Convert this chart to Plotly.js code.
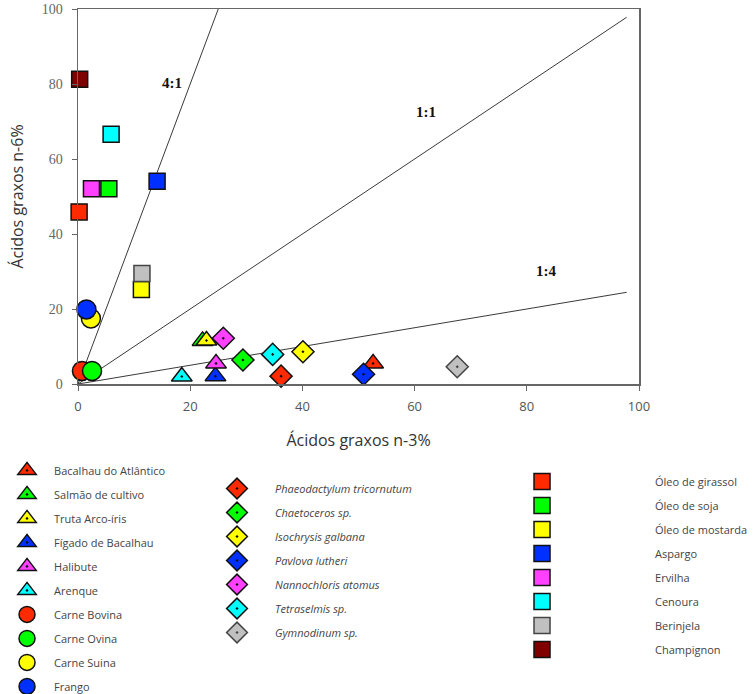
<!DOCTYPE html>
<html>
<head>
<meta charset="utf-8">
<script src="https://cdn.plot.ly/plotly-3.0.1.min.js"></script>
<style>html,body{margin:0;padding:0;background:#fff;}#chart{width:756px;height:694px;}</style>
</head>
<body>
<div id="chart"></div>
<script>
// ---- data (n-3 %, n-6 %) ----
const triNames = ['Bacalhau do Atlântico','Salmão de cultivo','Truta Arco-íris','Fígado de Bacalhau','Halibute','Arenque'];
const triN3 = [52.6, 22.2, 22.9, 24.5, 24.6, 18.5];
const triN6 = [5.5, 11.5, 11.6, 2.1, 5.5, 2.0];

const circNames = ['Carne Bovina','Carne Ovina','Carne Suina','Frango'];
const circN3 = [0.7, 2.5, 2.3, 1.5];
const circN6 = [3.5, 3.5, 17.5, 19.9];

const diaNames = ['Phaeodactylum tricornutum','Chaetoceros sp.','Isochrysis galbana','Pavlova lutheri','Nannochloris atomus','Tetraselmis sp.','Gymnodinum sp.'];
const diaN3 = [36.2, 29.4, 40.1, 50.9, 25.9, 34.7, 67.6];
const diaN6 = [2.1, 6.4, 8.6, 2.6, 12.2, 7.9, 4.6];

const sqNames = ['Óleo de girassol','Óleo de soja','Óleo de mostarda','Aspargo','Ervilha','Cenoura','Berinjela','Champignon'];
const sqN3 = [0.2, 5.5, 11.3, 14.1, 2.4, 5.9, 11.4, 0.3];
const sqN6 = [45.9, 52.1, 25.2, 54.1, 52.1, 66.6, 29.5, 81.3];

const ratioLabels = ['4:1','1:1','1:4'];
const ratioValues = [4, 1, 0.25];
const ratioLabelX = [16.8, 62.1, 83.5];
const ratioLabelY = [80.3, 72.5, 30.1];

const tickVals = [0, 20, 40, 60, 80, 100];

// ---- styles ----
const palette = ['#ff2a00','#00ff00','#ffff00','#0030ff','#ff40ff','#00ffff','#c0c0c0','#800000'];
const traces = [];

// ratio lines
ratioValues.forEach(function(r){
  const xEnd = Math.min(100 / r, 97.8);
  traces.push({x:[0, xEnd], y:[0, xEnd * r], mode:'lines', type:'scatter',
    line:{color:'#3a3a3a', width:1}, showlegend:false, hoverinfo:'skip'});
});

function addGroup(prefix, names, xs, ys, symbol, size, legendId, italic){
  names.forEach(function(n, i){
    traces.push({
      x:[xs[i]], y:[ys[i]], type:'scatter', mode:'markers', cliponaxis:false,
      name: italic ? '<i>' + n + '</i>' : n,
      legend: legendId, legendgroup: prefix + i,
      marker:{symbol:symbol, size:size, color:palette[i],
        line:{color: palette[i] === '#c0c0c0' ? '#444' : '#111', width:1.5}}
    });
  });
}
addGroup('tri', triNames, triN3, triN6, 'triangle-up-dot', 18, 'legend', false);
addGroup('circ', circNames, circN3, circN6, 'circle', 19, 'legend', false);
addGroup('dia', diaNames, diaN3, diaN6, 'diamond-dot', 17, 'legend2', true);
addGroup('sq', sqNames, sqN3, sqN6, 'square', 16, 'legend3', false);

const legFont = {family:'Open Sans, Liberation Sans, sans-serif', size:11, color:'#444'};
function legendCfg(x, y, w){
  return {x:x, y:y, xanchor:'left', yanchor:'top', font:legFont, bgcolor:'rgba(0,0,0,0)',
    tracegroupgap:5, itemsizing:'trace', itemwidth:w, orientation:'v'};
}

const layout = {
  width:756, height:694,
  margin:{l:78, r:117, t:9, b:310, autoexpand:false},
  paper_bgcolor:'#fff', plot_bgcolor:'#fff',
  xaxis:{range:[0,100], tickvals:tickVals, ticks:'outside', ticklen:5, tickcolor:'#666',
    showline:true, linecolor:'#666', linewidth:1.5, mirror:true, showgrid:false, zeroline:false,
    ticklabelstandoff:5,
    tickfont:{family:'Open Sans, Liberation Sans, sans-serif', size:13, color:'#555'},
    title:{text:'Ácidos graxos n-3%', standoff:20, font:{family:'Open Sans, Liberation Sans, sans-serif', size:16, color:'#333'}},
    automargin:false, fixedrange:true},
  yaxis:{range:[0,100], tickvals:tickVals, ticks:'outside', ticklen:5, tickcolor:'#666',
    showline:true, linecolor:'#666', linewidth:1.5, mirror:true, showgrid:false, zeroline:false,
    ticklabelstandoff:6,
    tickfont:{family:'Liberation Serif, Times New Roman, serif', size:14, color:'#666'},
    title:{text:'Ácidos graxos n-6%', standoff:14, font:{family:'Open Sans, Liberation Sans, sans-serif', size:16, color:'#333'}},
    automargin:false, fixedrange:true},
  annotations: ratioLabels.map(function(t, i){
    return {x:ratioLabelX[i], y:ratioLabelY[i], xref:'x', yref:'y', text:'<b>' + t + '</b>', showarrow:false,
      font:{family:'Liberation Serif, Times New Roman, serif', size:15, color:'#111'}};
  }),
  legend: legendCfg(-0.139, -0.1917, 44),
  legend2: legendCfg(0.2157, -0.24, 66),
  legend3: legendCfg(0.6257, -0.2213, 216),
  showlegend:true
};

Plotly.newPlot('chart', traces, layout, {displayModeBar:false, staticPlot:true});
</script>
</body>
</html>
